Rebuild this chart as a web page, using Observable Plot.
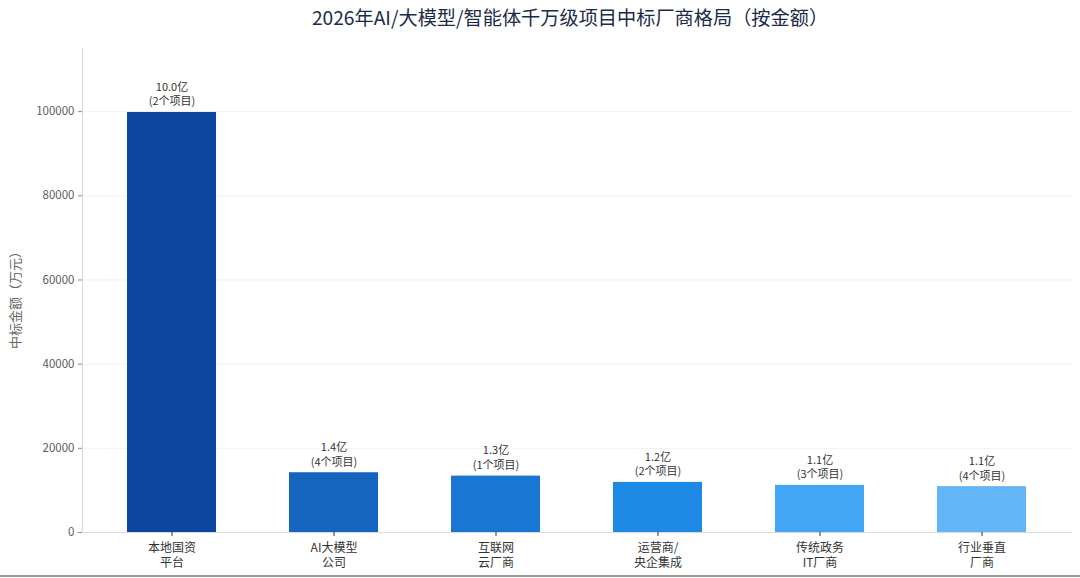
<!DOCTYPE html>
<html>
<head>
<meta charset="utf-8">
<script src="https://cdn.jsdelivr.net/npm/d3@7"></script>
<script src="https://cdn.jsdelivr.net/npm/@observablehq/plot@0.6"></script>
<style>
  html, body { margin: 0; padding: 0; background: #fff; }
  body { width: 1080px; height: 578px; overflow: hidden; position: relative; font-family: "Noto Sans CJK SC", "Noto Sans", sans-serif; }
  #title { height: 40px; line-height: 34px; text-align: center; font-size: 19.2px; color: #1c2b4a; padding-left: 60px; box-sizing: border-box; }
  #bottomline { position: absolute; left: 0; top: 575px; width: 1080px; height: 2px; background: #9a9a9a; }
</style>
</head>
<body>
<div id="title">2026年AI/大模型/智能体千万级项目中标厂商格局（按金额）</div>
<div id="chart"></div>
<div id="bottomline"></div>
<script>
const categories = ["本地国资\n平台", "AI大模型\n公司", "互联网\n云厂商", "运营商/\n央企集成", "传统政务\nIT厂商", "行业垂直\n厂商"];
const amounts = [99800, 14200, 13400, 11900, 11200, 10900];
const projectCounts = [2, 4, 1, 2, 3, 4];
const barColors = ["#0d47a1", "#1565c0", "#1976d2", "#1e88e5", "#42a5f5", "#64b5f6"];
const yTicks = [0, 20000, 40000, 60000, 80000, 100000];
const yLabel = "中标金额（万元）";

const data = categories.map((c, i) => ({
  cat: c,
  amount: amounts[i],
  n: projectCounts[i],
  color: barColors[i],
  label: (amounts[i] / 10000).toFixed(1) + "亿\n(" + projectCounts[i] + "个项目)"
}));

const chart = Plot.plot({
  width: 1080,
  height: 538,
  marginTop: 8,
  marginBottom: 46,
  marginLeft: 82,
  marginRight: 8,
  style: { fontFamily: "'Noto Sans CJK SC', 'Noto Sans', sans-serif", background: "#fff" },
  x: { domain: categories, paddingInner: 0.45, paddingOuter: 0.28, label: null },
  y: { domain: [0, 115000], label: null },
  marks: [
    Plot.gridY(yTicks.slice(1), { stroke: "#e8e8e8", strokeOpacity: 0.6 }),
    Plot.barY(data, { x: "cat", y: "amount", fill: "color" }),
    Plot.text(data, { x: "cat", y: "amount", text: "label", lineAnchor: "bottom", dy: -7, fontSize: 11, fill: "#333", lineHeight: 1.35 }),
    Plot.ruleY([0], { stroke: "#d5d9e0" }),
    Plot.frame({ anchor: "left", stroke: "#d5d9e0" }),
    Plot.axisY({ ticks: yTicks, tickFormat: d => String(d), tickSize: 4, tickPadding: 4, fontSize: 11.5, color: "#5a5a5a", stroke: "#888" }),
    Plot.axisX({ tickSize: 4, tickPadding: 4, fontSize: 12, color: "#333", lineHeight: 1.3 })
  ]
});
document.getElementById("chart").appendChild(chart);

// y-axis title
const svg = d3.select(chart);
svg.append("text")
  .attr("transform", "translate(16," + (297 - 40) + ") rotate(-90)")
  .attr("text-anchor", "middle")
  .attr("dominant-baseline", "middle")
  .attr("font-size", 13)
  .attr("fill", "#666")
  .text(yLabel);
</script>
</body>
</html>
